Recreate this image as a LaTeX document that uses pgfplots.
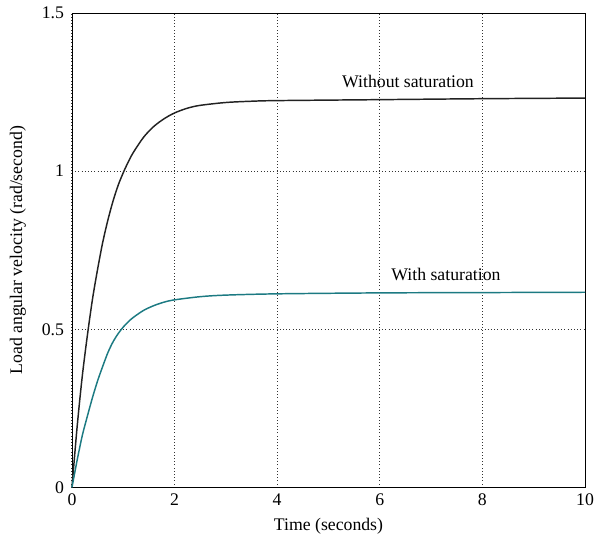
\documentclass[border=0pt]{standalone}
\usepackage{fontspec}
\setmainfont{Liberation Serif}
\usepackage{pgfplots}
\pgfplotsset{compat=1.18}
\definecolor{curveteal}{RGB}{28,122,130}
\definecolor{curveblack}{RGB}{34,34,34}

\begin{document}
\begin{tikzpicture}
\begin{axis}[
    scale only axis,
    width=385pt,
    height=356pt,
    xmin=0, xmax=10,
    ymin=0, ymax=1.5,
    xtick={0,2,4,6,8,10},
    ytick={0,0.5,1,1.5},
    yticklabels={0,0.5,1,1.5},
    grid=major,
    grid style={dotted, black!80, line width=0.7pt},
    major tick length=0pt,
    axis line style={black, line width=0.6pt},
    tick label style={font=\fontsize{13.3}{15}\selectfont},
    yticklabel style={xshift=-2.5pt},
    xticklabel style={yshift=-1pt},
    /pgf/number format/assume math mode=true,
    clip=false,
]
% without saturation
\addplot[curveblack, line width=1.1pt, smooth] coordinates {
    (0,0) (0.1,0.19) (0.2,0.35) (0.3,0.48) (0.4,0.595) (0.5,0.69)
    (0.6,0.775) (0.7,0.845) (0.8,0.905) (0.9,0.955) (1.0,0.995)
    (1.1,1.03) (1.2,1.06) (1.4,1.108) (1.6,1.142) (1.8,1.166)
    (2.0,1.184) (2.25,1.199) (2.5,1.208) (3.0,1.217) (3.5,1.221)
    (4,1.223) (6,1.226) (8,1.229) (10,1.231)
};
% with saturation
\addplot[curveteal, line width=1.1pt, smooth] coordinates {
    (0,0) (0.1,0.085) (0.2,0.163) (0.3,0.225) (0.4,0.284) (0.5,0.337)
    (0.6,0.383) (0.7,0.426) (0.8,0.46) (0.9,0.486) (1.0,0.507)
    (1.1,0.524) (1.2,0.538) (1.4,0.56) (1.6,0.575) (1.8,0.586)
    (2.0,0.593) (2.5,0.603) (3.0,0.608) (4.0,0.612) (6,0.615)
    (8,0.616) (10,0.617)
};
\node[font=\fontsize{13.3}{15}\selectfont] at (axis cs:6.55,1.285) {Without saturation};
\node[font=\fontsize{13.3}{15}\selectfont] at (axis cs:7.29,0.672) {With saturation};
\node[font=\fontsize{13.3}{15}\selectfont, rotate=90] at ([xshift=-40.5pt]rel axis cs:0,0.5) {Load angular velocity (rad/second)};
\node[font=\fontsize{13.3}{15}\selectfont] at ([yshift=-29pt]rel axis cs:0.5,0) {Time (seconds)};
\end{axis}
\pgfresetboundingbox
\path[use as bounding box] ([xshift=-54pt,yshift=-39pt]current axis.south west) rectangle ([xshift=9pt,yshift=9.75pt]current axis.north east);
\end{tikzpicture}
\end{document}
